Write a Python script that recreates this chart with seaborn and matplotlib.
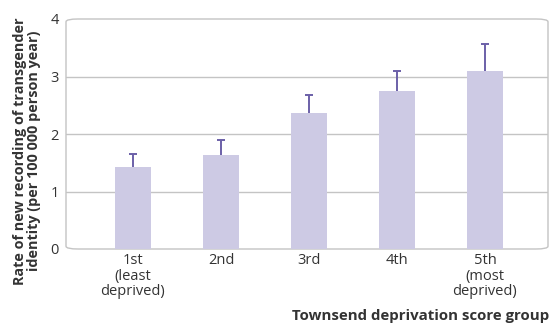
import matplotlib
matplotlib.use("Agg")
import matplotlib.pyplot as plt
from matplotlib.patches import FancyBboxPatch
import seaborn as sns
import pandas as pd

# Rate of new recording of transgender identity by deprivation quintile
groups = ["1st\n(least\ndeprived)", "2nd", "3rd", "4th", "5th\n(most\ndeprived)"]
rates = [1.43, 1.64, 2.36, 2.75, 3.10]
upper_ci = [1.66, 1.90, 2.67, 3.10, 3.57]
y_ticks = [0, 1, 2, 3, 4]

bar_color = "#cdcae4"
err_color = "#6b60a8"
grid_color = "#c4c4c4"
text_color = "#333333"

sns.set_theme(style="white")
plt.rcParams["font.family"] = ["Open Sans", "DejaVu Sans"]

df = pd.DataFrame({"group": groups, "rate": rates, "upper": upper_ci})

fig = plt.figure(figsize=(5.5, 3.27), dpi=100)
ax = fig.add_axes([66 / 550, 1 - 249 / 327, (548 - 66) / 550, (249 - 19) / 327])

sns.barplot(data=df, x="group", y="rate", color=bar_color, width=0.41,
            saturation=1, errorbar=None, linewidth=0, ax=ax, zorder=3)

# one-sided (upper) confidence intervals: stem plus top cap
xpos = list(range(len(df)))
cap = 0.045
ax.vlines(xpos, df["rate"], df["upper"], color=err_color, lw=1.4, zorder=4)
ax.hlines(df["upper"], [x - cap for x in xpos], [x + cap for x in xpos],
          color=err_color, lw=1.4, zorder=4)

ax.set_ylim(0, 4)
ax.set_xlim(-0.761, 4.716)
ax.set_yticks(y_ticks)
ax.set_yticklabels([str(t) for t in y_ticks])
for y in y_ticks[1:-1]:
    ax.axhline(y, color=grid_color, lw=1.0, zorder=1)

for s in ax.spines.values():
    s.set_visible(False)
frame = FancyBboxPatch((0, 0), 1, 1, boxstyle="round,pad=0,rounding_size=0.025",
                       transform=ax.transAxes, fill=False, edgecolor=grid_color,
                       lw=1.0, zorder=2, clip_on=False,
                       mutation_aspect=(249 - 19) / (548 - 66))
ax.add_patch(frame)

ax.tick_params(axis="both", length=0, labelsize=10.5, colors=text_color, pad=3)
ax.tick_params(axis="y", pad=5)
for lbl in ax.get_xticklabels():
    lbl.set_linespacing(1.05)
    lbl.set_verticalalignment("top")

ax.set_xlabel("")
ax.set_ylabel("")
fig.text(27 / 550, 1 - 151 / 327,
         "Rate of new recording of transgender\nidentity (per 100 000 person year)",
         rotation=90, ha="center", va="center", fontsize=10.4, fontweight="bold",
         color=text_color, linespacing=1.05, multialignment="center")

fig.text(549 / 550, 1 - 316 / 327, "Townsend deprivation score group",
         ha="right", va="center", fontsize=10.8, fontweight="bold", color=text_color)

fig.savefig("out.png", dpi=100)
